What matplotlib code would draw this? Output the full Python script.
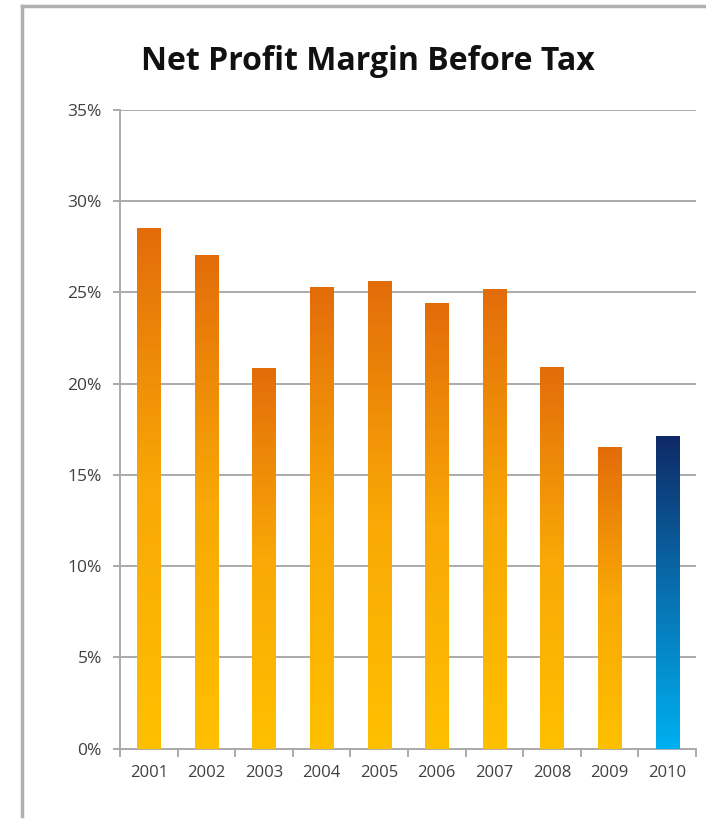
import matplotlib
matplotlib.use("Agg")
import matplotlib.pyplot as plt
import numpy as np
from matplotlib.colors import LinearSegmentedColormap
from matplotlib.ticker import FuncFormatter, MultipleLocator
from matplotlib.lines import Line2D

years = ["2001", "2002", "2003", "2004", "2005", "2006", "2007", "2008", "2009", "2010"]
margins = [28.55, 27.05, 20.85, 25.3, 25.6, 24.4, 25.2, 20.9, 16.5, 17.1]
highlight = ["2010"]

plt.rcParams['font.family'] = ['Open Sans', 'DejaVu Sans']

fig = plt.figure(figsize=(7.06, 8.24), dpi=100)
fig.patch.set_facecolor("white")
ax = fig.add_axes([120/706, 1-748.7/824, 576/706, (748.7-110)/824])

orange_cmap = LinearSegmentedColormap.from_list("org", ["#FFC000", "#F9A806", "#E36C0A"])
blue_cmap = LinearSegmentedColormap.from_list("blu", ["#00B0F0", "#0870B0", "#0F2A66"])
grad = np.linspace(0, 1, 256).reshape(-1, 1)

x = np.arange(len(years))
width = 0.4
bars = ax.bar(x, margins, width=width, color="none", edgecolor="none", zorder=3)
for xi, val, yr, b in zip(x, margins, years, bars):
    cmap = blue_cmap if yr in highlight else orange_cmap
    ax.imshow(grad, cmap=cmap, origin="lower", aspect="auto",
              extent=[xi - width/2, xi + width/2, 0, val], zorder=3)

ax.set_xlim(-0.5, len(years) - 0.5)
ax.set_ylim(0, 35)
ax.yaxis.set_major_locator(MultipleLocator(5))
ax.yaxis.set_major_formatter(FuncFormatter(lambda v, p: f"{int(round(v))}%"))
ax.set_xticks(x)
ax.set_xticklabels(years)
ax.set_xticks(np.arange(-0.5, len(years) + 0.5, 1), minor=True)

ax.grid(axis="y", color="#AAAAAA", linewidth=1.4, zorder=0)
ax.set_axisbelow(True)
for s in ["top", "right"]:
    ax.spines[s].set_visible(False)
for s in ["left", "bottom"]:
    ax.spines[s].set_color("#AAAAAA")
    ax.spines[s].set_linewidth(1.4)

ax.tick_params(axis="x", which="major", length=0, pad=12, labelsize=12, labelcolor="#404040")
ax.tick_params(axis="x", which="minor", length=6, width=1.4, color="#AAAAAA")
ax.tick_params(axis="y", length=5, width=1.4, color="#AAAAAA", pad=8, labelsize=12.5, labelcolor="#404040")

fig.text(368/706, 1-62/824, "Net Profit Margin Before Tax", ha="center", va="center",
         fontsize=23, fontweight="bold", color="#111111")

# chart frame border
fig.add_artist(Line2D([22/706, 22/706], [0.01, 1-6/824], color="#B0B0B0", linewidth=2.5, transform=fig.transFigure))
fig.add_artist(Line2D([22/706, 1.0], [1-6/824, 1-6/824], color="#B0B0B0", linewidth=2.5, transform=fig.transFigure))

fig.savefig("out.png", dpi=100)
